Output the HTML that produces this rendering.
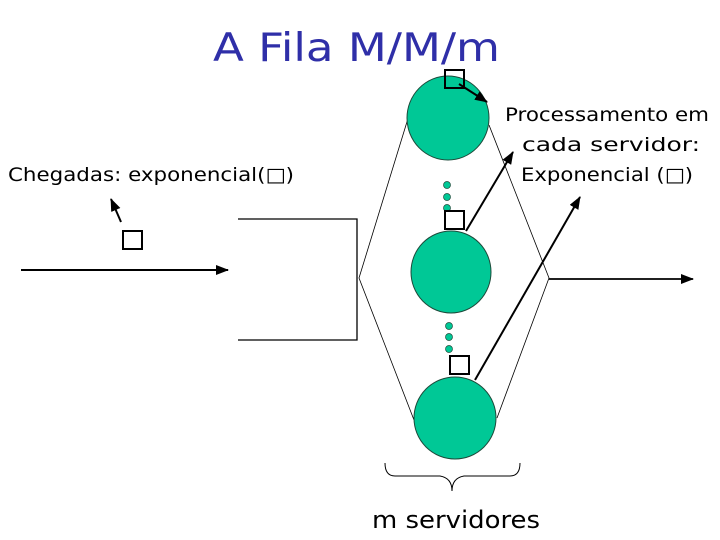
<!DOCTYPE html>
<html><head><meta charset="utf-8"><style>
html,body{margin:0;padding:0;background:#fff;}
svg{display:block;}
text{font-family:"DejaVu Sans","Liberation Sans",sans-serif;}
</style></head><body>
<svg width="720" height="540" viewBox="0 0 720 540" xmlns="http://www.w3.org/2000/svg">
<defs>
<marker id="ah" markerWidth="13" markerHeight="10" refX="12" refY="5" orient="auto" markerUnits="userSpaceOnUse">
<path d="M0,0 L13,5 L0,10 z" fill="#000"/></marker>
</defs>
<text x="213" y="61" font-size="39" fill="#2f2fa8" textLength="287" lengthAdjust="spacingAndGlyphs">A Fila M/M/m</text>
<text x="8" y="181" font-size="19" fill="#000" textLength="286" lengthAdjust="spacingAndGlyphs">Chegadas: exponencial(□)</text>
<text x="607" y="121" font-size="19" text-anchor="middle" textLength="204" lengthAdjust="spacingAndGlyphs">Processamento em</text>
<text x="611" y="151" font-size="19" text-anchor="middle" textLength="178" lengthAdjust="spacingAndGlyphs">cada servidor:</text>
<text x="607" y="181" font-size="19" text-anchor="middle" textLength="172" lengthAdjust="spacingAndGlyphs">Exponencial (□)</text>
<text x="456" y="528" font-size="24" text-anchor="middle" textLength="168" lengthAdjust="spacingAndGlyphs">m servidores</text>
<!-- input arrow -->
<line x1="21" y1="270" x2="228" y2="270" stroke="#000" stroke-width="2" marker-end="url(#ah)"/>
<rect x="123" y="231" width="19" height="18" fill="none" stroke="#000" stroke-width="2"/>
<line x1="121" y1="222" x2="111" y2="199" stroke="#000" stroke-width="2" marker-end="url(#ah)"/>
<!-- queue -->
<polyline points="238,219 357,219 357,340 238,340" fill="none" stroke="#000" stroke-width="1.3"/>
<!-- fan lines -->
<polyline points="410,112 359,278 414,420" fill="none" stroke="#000" stroke-width="0.8"/>
<polyline points="489,125 549,278 497,418" fill="none" stroke="#000" stroke-width="0.8"/>
<line x1="549" y1="279" x2="693" y2="279" stroke="#000" stroke-width="1.8" marker-end="url(#ah)"/>
<!-- circles -->
<ellipse cx="448" cy="118" rx="41" ry="42" fill="#00c896" stroke="#1d4a3a" stroke-width="1"/>
<ellipse cx="451" cy="272" rx="40" ry="41" fill="#00c896" stroke="#1d4a3a" stroke-width="1"/>
<ellipse cx="455" cy="418" rx="41" ry="41" fill="#00c896" stroke="#1d4a3a" stroke-width="1"/>
<g fill="#00c896" stroke="#1d4a3a" stroke-width="0.7">
<circle cx="447" cy="185" r="3.5"/><circle cx="447" cy="197" r="3.5"/><circle cx="447" cy="208" r="3.5"/>
<circle cx="449" cy="326" r="3.5"/><circle cx="449" cy="337" r="3.5"/><circle cx="449" cy="349" r="3.5"/>
</g>
<!-- squares & arrows -->
<rect x="445" y="70" width="19" height="18" fill="none" stroke="#000" stroke-width="2"/>
<line x1="459" y1="84" x2="487" y2="102" stroke="#000" stroke-width="2" marker-end="url(#ah)"/>
<rect x="445" y="211" width="19" height="18" fill="none" stroke="#000" stroke-width="2"/>
<line x1="466" y1="231" x2="513" y2="152" stroke="#000" stroke-width="2" marker-end="url(#ah)"/>
<rect x="450" y="356" width="19" height="18" fill="none" stroke="#000" stroke-width="2"/>
<line x1="475" y1="380" x2="580" y2="197" stroke="#000" stroke-width="2" marker-end="url(#ah)"/>
<!-- brace -->
<path d="M385,463 Q385,476 395,476 L440,476 Q452,478 452,491 Q452,478 464,476 L510,476 Q520,476 520,463" fill="none" stroke="#000" stroke-width="1"/>
</svg>
</body></html>
